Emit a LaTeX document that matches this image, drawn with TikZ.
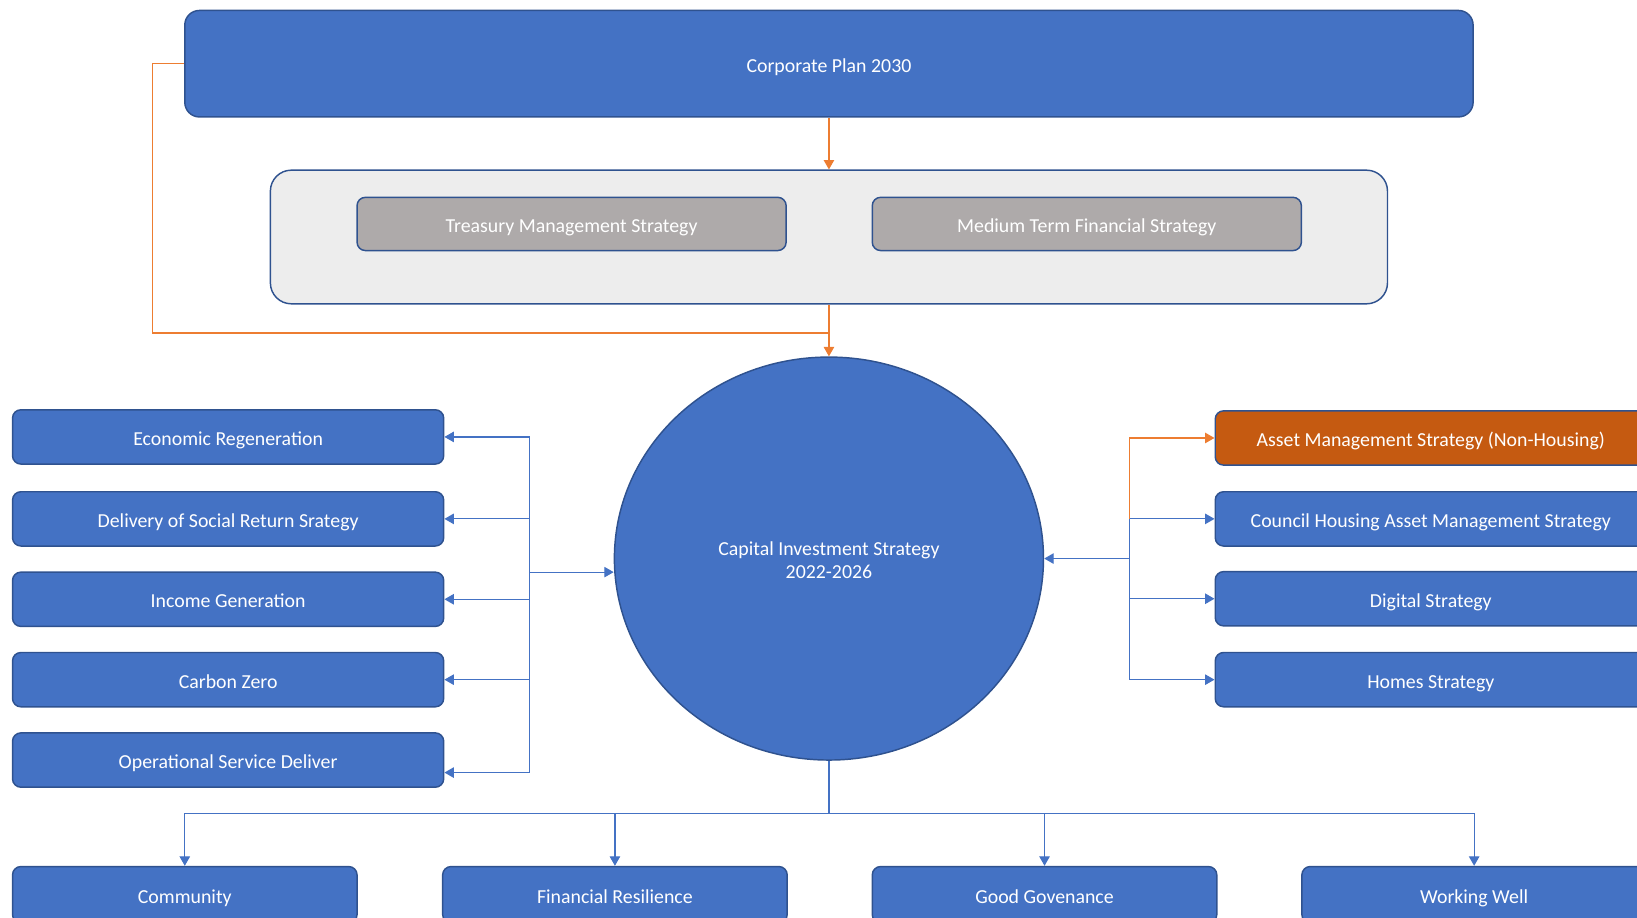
\documentclass[tikz,border=0pt]{standalone}
\usepackage{fontspec}
\setmainfont{Carlito}
\usetikzlibrary{arrows.meta,shapes.geometric}
\definecolor{boxblue}{HTML}{4472C4}
\definecolor{edgeblue}{HTML}{2F528F}
\definecolor{linkorange}{HTML}{ED7D31}
\definecolor{assetorange}{HTML}{C55A11}
\definecolor{panelgray}{HTML}{EDEDED}
\definecolor{stratgray}{HTML}{AEAAAA}
\tikzset{
  every node/.style={font=\fontsize{9.5}{11.5}\selectfont, text=white, align=center, inner sep=0pt},
  oneline/.style={text height=0.8em, text depth=0pt},
  bluebox/.style={rectangle, rounded corners=4pt, draw=edgeblue, line width=0.7pt, fill=boxblue, oneline},
  sidebox/.style={bluebox, minimum width=206.5pt, minimum height=26pt},
  goalbox/.style={bluebox, minimum width=165pt, minimum height=27pt},
  graybox/.style={rectangle, rounded corners=4pt, draw=edgeblue, line width=0.7pt, fill=stratgray, minimum width=205.5pt, minimum height=25.5pt, oneline},
  tip/.style={-{Triangle[length=4.5pt,width=5pt]}},
  bluelink/.style={draw=boxblue, line width=0.55pt},
  orangelink/.style={draw=linkorange, line width=0.55pt},
}
\begin{document}
\begin{tikzpicture}[x=0.5pt, y=-0.5pt]
  \useasboundingbox (0,0) rectangle (1568,879);
  \clip (0,0) rectangle (1568,879);

  % top plan and financial strategies
  \node[bluebox, rounded corners=7pt, minimum width=617pt, minimum height=51pt] (corp) at (794,61) {Corporate Plan 2030};
  \node[rectangle, rounded corners=10pt, draw=edgeblue, line width=0.7pt, fill=panelgray, minimum width=535pt, minimum height=64pt] (panel) at (794,227) {};
  \node[graybox] (tms) at (547.5,214.5) {Treasury Management Strategy};
  \node[graybox] (mtfs) at (1041,214.5) {Medium Term Financial Strategy};

  % central strategy
  \node[ellipse, draw=edgeblue, line width=0.7pt, fill=boxblue, minimum width=205.5pt, minimum height=193pt] (cis) at (794,535) {};
  \node at ([yshift=-0.6pt]cis.center) {Capital Investment Strategy\\[-0.5pt]2022-2026};

  % left-hand themes
  \node[sidebox] (er)  at (218.5,418.5) {Economic Regeneration};
  \node[sidebox] (dsr) at (218.5,497) {Delivery of Social Return Srategy};
  \node[sidebox] (ig)  at (218.5,574) {Income Generation};
  \node[sidebox] (cz)  at (218.5,651) {Carbon Zero};
  \node[sidebox] (osd) at (218.5,728) {Operational Service Deliver};

  % right-hand strategies
  \node[sidebox, fill=assetorange] (amnh) at (1370.5,419.5) {Asset Management Strategy (Non-Housing)};
  \node[sidebox] (cham) at (1370.5,497) {Council Housing Asset Management Strategy};
  \node[sidebox] (dig)  at (1370.5,573.5) {Digital Strategy};
  \node[sidebox] (hom)  at (1370.5,651) {Homes Strategy};

  % corporate goals
  \node[goalbox] (comm) at (177,857) {Community};
  \node[goalbox] (fin)  at (589,857) {Financial Resilience};
  \node[goalbox] (gov)  at (1000.5,857) {Good Govenance};
  \node[goalbox] (ww)   at (1412,857) {Working Well};

  % junction points
  \coordinate (ojoin) at (794,319);
  \coordinate (lhub) at (507,548);
  \coordinate (rhub) at (1082,535);
  \coordinate (bhub) at (794,779);

  % orange feed into the central strategy
  \draw[orangelink, tip] (corp.south) -- (panel.north);
  \draw[orangelink, tip] (panel.south) -- (cis.north);
  \draw[orangelink] (corp.west) -- ++(-30,0) |- (ojoin);

  % left links
  \draw[bluelink, tip] (lhub) -- (lhub -| cis.west);
  \draw[bluelink, tip] (lhub) |- (er.east);
  \draw[bluelink, tip] (lhub) |- (dsr.east);
  \draw[bluelink, tip] (lhub) |- (ig.east);
  \draw[bluelink, tip] (lhub) |- (cz.east);
  \draw[bluelink, tip] (lhub) |- ([yshift=-6pt]osd.east);

  % right links
  \draw[bluelink, tip] (rhub) -- (cis.east);
  \draw[bluelink, tip] (rhub) |- (cham.west);
  \draw[bluelink, tip] (rhub) |- (dig.west);
  \draw[bluelink, tip] (rhub) |- (hom.west);
  \draw[orangelink, tip] (rhub |- cham.west) |- (amnh.west);

  % bottom links
  \draw[bluelink] (cis.south) -- (bhub);
  \draw[bluelink, tip] (bhub) -| (comm.north);
  \draw[bluelink, tip] (bhub) -| (fin.north);
  \draw[bluelink, tip] (bhub) -| (gov.north);
  \draw[bluelink, tip] (bhub) -| (ww.north);
\end{tikzpicture}
\end{document}
